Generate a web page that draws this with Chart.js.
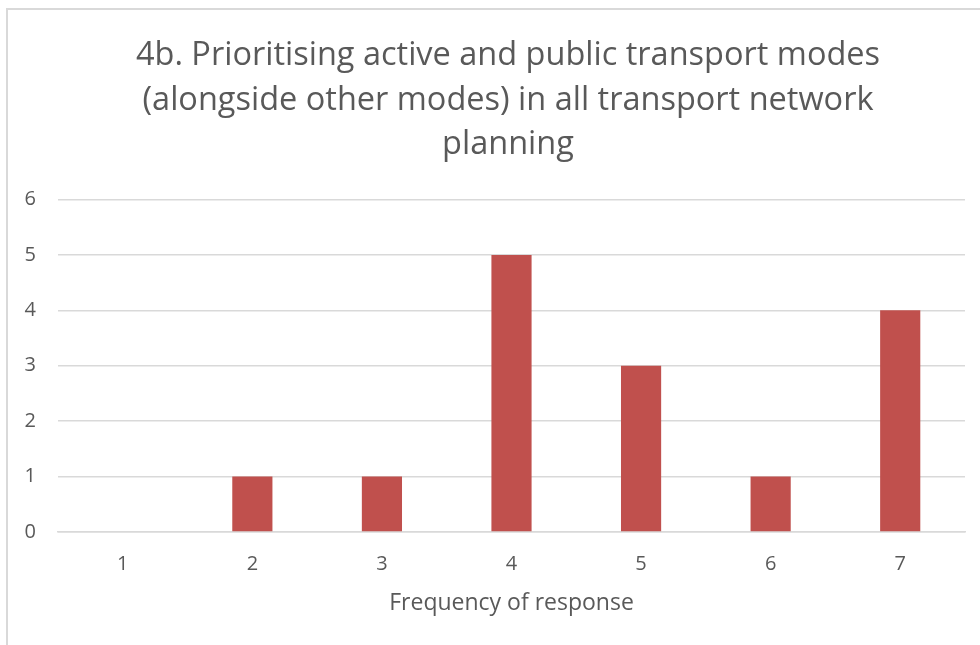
<!DOCTYPE html>
<html><head><meta charset="utf-8">
<script src="https://cdn.jsdelivr.net/npm/chart.js@4/dist/chart.umd.min.js"></script>
<style>
html,body{margin:0;padding:0;overflow:hidden;background:#fff;width:980px;height:645px;}
#wrap{position:absolute;left:0;top:0;width:1016px;height:645px;}
#frame{position:absolute;left:6px;top:8px;width:1100px;height:700px;border:2px solid #D9D9D9;box-sizing:border-box;pointer-events:none;}
</style></head>
<body>
<div id="wrap"><canvas id="c" width="1016" height="645"></canvas></div>
<div id="frame"></div>
<script>
const categories = ["1","2","3","4","5","6","7"];
const values = [0,1,1,5,3,1,4];
const titleLines = ["4b. Prioritising active and public transport modes","(alongside other modes) in all transport network","planning"];
const xAxisTitle = "Frequency of response";
const yTicks = [0,1,2,3,4,5,6];

const centerTitle = {
  id: 'centerTitle',
  afterLayout(chart) {
    const tb = chart.titleBlock;
    if (tb) { tb.left = 51; tb.right = 965; }
  }
};

new Chart(document.getElementById('c'), {
  type: 'bar',
  data: { labels: categories, datasets: [{ data: values, backgroundColor: '#C0504D', barPercentage: 0.31, categoryPercentage: 1.0 }] },
  plugins: [centerTitle],
  options: {
    responsive: false, animation: false,
    layout: { padding: { left: 8, right: 51, top: 33, bottom: 30 } },
    plugins: {
      legend: { display: false }, tooltip: { enabled: false },
      title: { display: true, text: titleLines, color: '#595959', font: { family: 'Open Sans', size: 32.5, weight: 'normal', lineHeight: 1.38 }, padding: { top: 0, bottom: 32 } }
    },
    scales: {
      x: {
        grid: { display: false, drawTicks: false },
        border: { color: '#D9D9D9', width: 1.5 },
        ticks: { color: '#595959', font: { family: 'Open Sans', size: 20 }, padding: 20.5 },
        title: { display: true, text: xAxisTitle, color: '#595959', font: { family: 'Open Sans', size: 23, lineHeight: 1.0 }, padding: { top: -5, bottom: 0 } }
      },
      y: {
        min: 0, max: 6,
        afterBuildTicks: s => { s.ticks = yTicks.map(v => ({ value: v })); },
        afterFit: s => { s.width = 50; },
        grid: { color: '#D9D9D9', lineWidth: 1.5, drawTicks: false },
        border: { display: false },
        ticks: { color: '#595959', font: { family: 'Open Sans', size: 20 }, padding: 22 }
      }
    }
  }
});
</script>
</body></html>
